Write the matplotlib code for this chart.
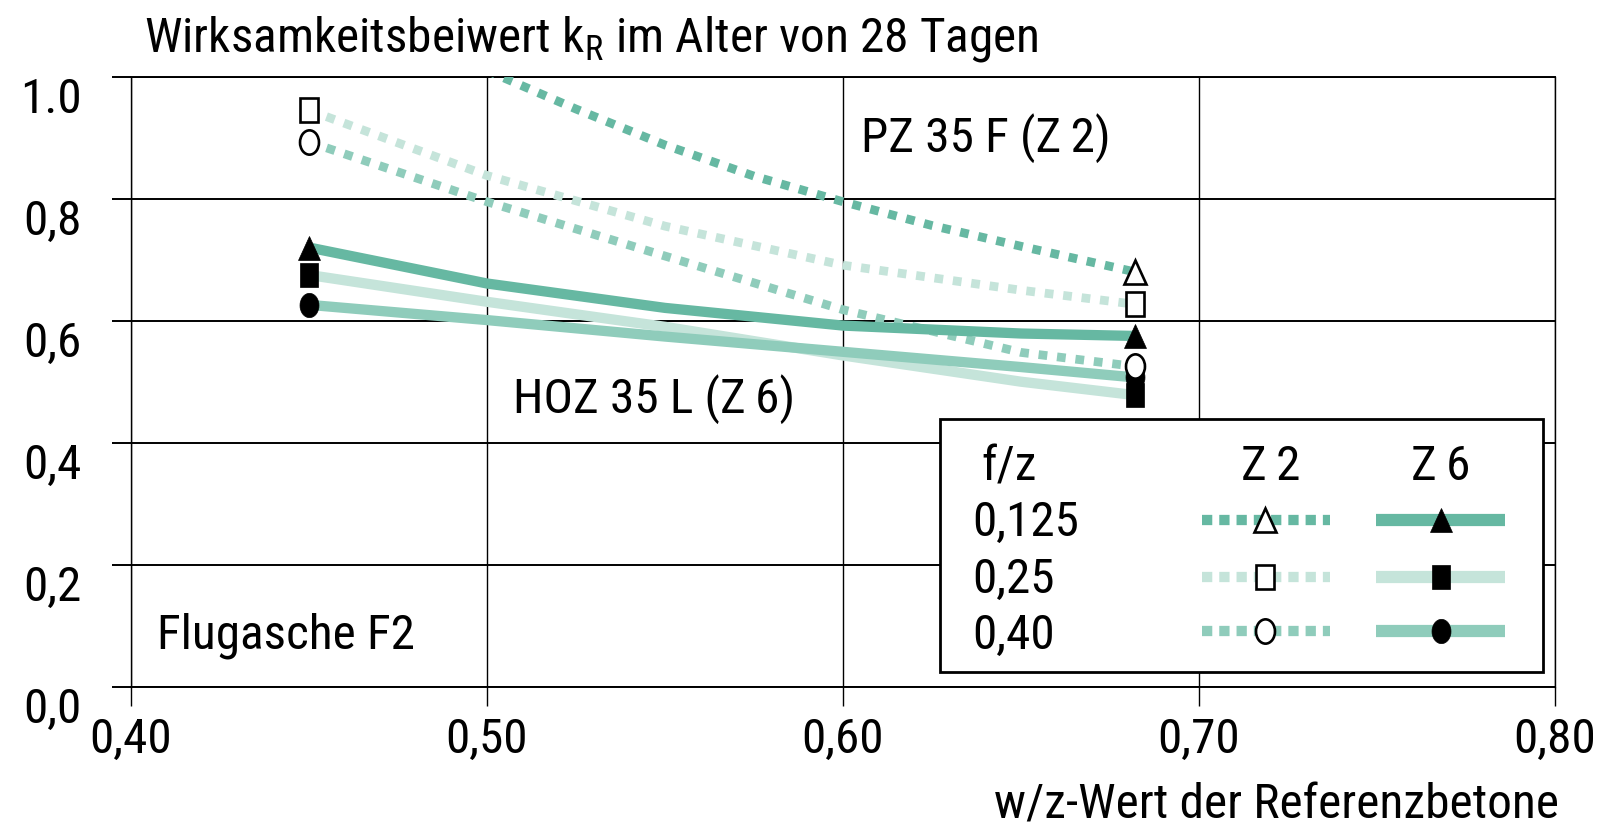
import matplotlib
matplotlib.use("Agg")
import matplotlib.pyplot as plt
import matplotlib.font_manager as fm
from matplotlib.markers import MarkerStyle
from matplotlib.transforms import Affine2D
from matplotlib.patches import Rectangle
from matplotlib.lines import Line2D
import numpy as np

# ---------------- data ----------------
x_ticks = [0.40, 0.50, 0.60, 0.70, 0.80]
x_tick_labels = ["0,40", "0,50", "0,60", "0,70", "0,80"]
y_ticks = [0.0, 0.2, 0.4, 0.6, 0.8, 1.0]
y_tick_labels = ["0,0", "0,2", "0,4", "0,6", "0,8", "1.0"]

# Z 2 (PZ 35 F), f/z = 0,125 -- starts above the top of the chart
x_z2_0125 = [0.50, 0.525, 0.55, 0.575, 0.60, 0.625, 0.65, 0.682]
y_z2_0125 = [1.01, 0.947, 0.888, 0.837, 0.795, 0.756, 0.722, 0.680]

x_common = [0.45, 0.50, 0.55, 0.60, 0.65, 0.682]
y_z2_025 = [0.945, 0.838, 0.755, 0.691, 0.650, 0.627]
y_z2_040 = [0.893, 0.795, 0.706, 0.618, 0.548, 0.525]
y_z6_0125 = [0.720, 0.661, 0.621, 0.592, 0.579, 0.575]
y_z6_025 = [0.675, 0.631, 0.590, 0.543, 0.500, 0.478]
y_z6_040 = [0.626, 0.601, 0.574, 0.549, 0.524, 0.507]

fz_labels = ["0,125", "0,25", "0,40"]

# ---------------- fonts ----------------
def pick_font():
    names = {f.name for f in fm.fontManager.ttflist}
    for n in ["Liberation Sans Narrow", "Roboto Condensed", "DejaVu Sans Condensed",
              "Open Sans Condensed", "Noto Sans Condensed", "Arial Narrow"]:
        if n in names:
            return n, "normal", True
    for f in fm.fontManager.ttflist:
        if f.name in ("Noto Sans", "Open Sans", "Roboto", "Inter", "Liberation Sans") and \
                str(f.stretch) in ("condensed", "semi-condensed", "extra-condensed"):
            return f.name, str(f.stretch), True
    return "Liberation Sans", "normal", False

FONT, STRETCH, NARROW = pick_font()
plt.rcParams["font.family"] = [FONT, "DejaVu Sans"]
plt.rcParams["font.stretch"] = STRETCH
FS = 35.5 if NARROW else 30

# ---------------- colours ----------------
C_DARK = "#66b8a2"
C_LIGHT = "#c5e4da"
C_MID = "#8fccbb"

DOT = (0, (1.0, 1.12))
DOT_LEG = (0, (1.0, 0.68))
LW_DOT = 6.3
LW_DOT_LEG = 7.4
LW_SOL = 7.4
LW_SOL_LEG = 8.8

def mk(shape, sx=0.78):
    return MarkerStyle(shape, transform=Affine2D().scale(sx, 1.0))

MS = 17.5

# ---------------- figure ----------------
fig = plt.figure(figsize=(16.08, 8.25), dpi=100)
ax = fig.add_axes([131 / 1608, 1 - 686.7 / 825, 1424 / 1608, 610 / 825])
ax.set_xlim(0.40, 0.80)
ax.set_ylim(0.0, 1.0)

for s in ax.spines.values():
    s.set_linewidth(1.4)
    s.set_color("black")
    s.set_zorder(1)
ax.spines["left"].set_linewidth(1.0)
ax.spines["right"].set_linewidth(1.0)

ax.set_xticks(x_ticks, x_tick_labels)
ax.set_yticks(y_ticks, y_tick_labels, va="top")
ax.tick_params(axis="both", direction="out", length=13.5, width=1.4, labelsize=FS, colors="black")
ax.tick_params(axis="x", pad=8, width=1.0)
ax.tick_params(axis="y", pad=22)
ax.grid(axis="y", color="black", linewidth=1.4, zorder=1)
ax.grid(axis="x", color="black", linewidth=1.0, zorder=1)
ax.set_axisbelow(True)

# curves
def series(x, y, color, ls, lw, marker, filled, markevery):
    ax.plot(x, y, color=color, linestyle=ls, linewidth=lw, solid_capstyle="butt",
            dash_capstyle="butt", solid_joinstyle="round", zorder=3)
    ax.plot(np.array(x)[markevery], np.array(y)[markevery], linestyle="none",
            marker=marker, markersize=MS,
            markerfacecolor="black" if filled else "white",
            markeredgecolor="black", markeredgewidth=1.9 if not filled else 0.5,
            zorder=5 if not filled else 4, clip_on=False)

ends = [0, -1]
series(x_z2_0125, y_z2_0125, C_DARK, DOT, LW_DOT, mk("^", 0.92), False, [-1])
series(x_common, y_z2_025, C_LIGHT, DOT, LW_DOT, mk("s"), False, ends)
series(x_common, y_z2_040, C_MID, DOT, LW_DOT, mk("o"), False, ends)
series(x_common, y_z6_0125, C_DARK, "-", LW_SOL, mk("^", 0.92), True, ends)
series(x_common, y_z6_025, C_LIGHT, "-", LW_SOL, mk("s"), True, ends)
series(x_common, y_z6_040, C_MID, "-", LW_SOL, mk("o"), True, ends)

# annotations
ax.text(0.605, 0.90, "PZ 35 F (Z\u20092)", fontsize=FS, ha="left", va="center", zorder=6)
ax.text(0.5072, 0.472, "HOZ 35 L (Z\u20096)", fontsize=FS, ha="left", va="center", zorder=6)
ax.text(0.4073, 0.083, "Flugasche F2", fontsize=FS, ha="left", va="center", zorder=6)

# legend box (axes fraction)
T = ax.transAxes
ax.add_patch(Rectangle((0.568, 0.024), 0.4236, 0.415, transform=T, facecolor="white",
                       edgecolor="black", linewidth=2.0, zorder=10, clip_on=False))
ax.text(0.617, 0.360, "f/z", transform=T, fontsize=FS, ha="center", va="center", zorder=11)
ax.text(0.800, 0.360, "Z\u20092", transform=T, fontsize=FS, ha="center", va="center", zorder=11)
ax.text(0.920, 0.360, "Z\u20096", transform=T, fontsize=FS, ha="center", va="center", zorder=11)
row_y = [0.268, 0.175, 0.083]
line_y = [0.273, 0.180, 0.091]
cols = [C_DARK, C_LIGHT, C_MID]
shapes = [("^", 0.92), ("s", 0.78), ("o", 0.78)]
for lab, ty, ly, c, (shp, sx) in zip(fz_labels, row_y, line_y, cols, shapes):
    ax.text(0.5906, ty, lab, transform=T, fontsize=FS, ha="left", va="center", zorder=11)
    ax.add_line(Line2D([0.752, 0.842], [ly, ly], transform=T, color=c, linestyle=DOT_LEG,
                       linewidth=LW_DOT_LEG, dash_capstyle="butt", zorder=11))
    ax.add_line(Line2D([0.796], [ly], transform=T, linestyle="none", marker=mk(shp, sx),
                       markersize=MS, markerfacecolor="white", markeredgecolor="black",
                       markeredgewidth=1.9, zorder=12))
    ax.add_line(Line2D([0.874, 0.965], [ly, ly], transform=T, color=c, linestyle="-",
                       linewidth=LW_SOL_LEG, solid_capstyle="butt", zorder=11))
    ax.add_line(Line2D([0.920], [ly], transform=T, linestyle="none", marker=mk(shp, sx),
                       markersize=MS, markerfacecolor="black", markeredgecolor="black",
                       markeredgewidth=0.5, zorder=12))

# title and axis label
fig.text(144 / 1608, 1 - 51 / 825, "Wirksamkeitsbeiwert k$_\\mathregular{R}$ im Alter von 28 Tagen",
         fontsize=FS, ha="left", va="baseline")
fig.text(1559 / 1608, 1 - 818 / 825, "w/z-Wert der Referenzbetone", fontsize=FS,
         ha="right", va="baseline")

fig.savefig("out.png", dpi=100)
